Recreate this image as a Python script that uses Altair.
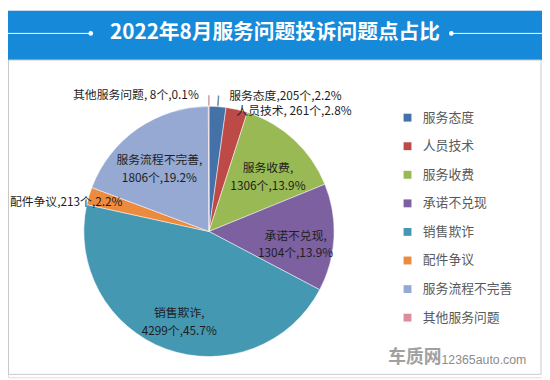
import altair as alt
import pandas as pd

# ---- data ----
categories = ["服务态度", "人员技术", "服务收费", "承诺不兑现", "销售欺诈", "配件争议", "服务流程不完善", "其他服务问题"]
counts = [205, 261, 1306, 1304, 4299, 213, 1806, 8]
percents = ["2.2", "2.8", "13.9", "13.9", "45.7", "2.2", "19.2", "0.1"]
label_seps = [",", ", ", ",\n", ",\n", ",\n", ",", ",\n", ", "]
colors = ["#4472A8", "#BD4A47", "#98B954", "#7D60A0", "#4598B1", "#EC8A3E", "#95A9D2", "#D9909A"]
title_text = "2022年8月服务问题投诉问题点占比"

labels = [f"{c}{s}{n}个,{p}%" for c, s, n, p in zip(categories, label_seps, counts, percents)]
df = pd.DataFrame({"idx": list(range(len(categories))), "cat": categories,
                   "count": counts, "label": labels})

W, H = 542, 372
CX, CY, R = 204, 224, 127
FONT = "Noto Sans CJK SC"

one = pd.DataFrame({"a": [0]})

# background pieces
bar = alt.Chart(one).mark_rect(color="#168AD8").encode(
    x=alt.value(0), x2=alt.value(W), y=alt.value(0), y2=alt.value(50))
border = alt.Chart(one).mark_rect(fill=None, stroke="#C8C8C8", strokeWidth=1).encode(
    x=alt.value(0.5), x2=alt.value(541), y=alt.value(50), y2=alt.value(369))
line_l = alt.Chart(one).mark_rule(color="white", strokeWidth=1).encode(
    x=alt.value(0), x2=alt.value(84), y=alt.value(23))
line_r = alt.Chart(one).mark_rule(color="white", strokeWidth=1).encode(
    x=alt.value(450), x2=alt.value(W), y=alt.value(23))
dot_l = alt.Chart(one).mark_point(filled=True, color="white", size=22, opacity=1).encode(
    x=alt.value(84), y=alt.value(23))
dot_r = alt.Chart(one).mark_point(filled=True, color="white", size=22, opacity=1).encode(
    x=alt.value(450), y=alt.value(23))
title = alt.Chart(pd.DataFrame({"t": [title_text]})).mark_text(
    font=FONT, fontSize=21, fontWeight="bold", color="white", align="center", baseline="middle"
).encode(text="t:N", x=alt.value(271), y=alt.value(23))

base = alt.Chart(df)

pie = base.mark_arc(outerRadius=R, stroke="white", strokeWidth=0.5).encode(
    theta=alt.Theta("count:Q", stack=True),
    order=alt.Order("idx:Q"),
    color=alt.Color("cat:N", sort=categories,
                    scale=alt.Scale(domain=categories, range=colors),
                    legend=alt.Legend(orient="none", legendX=399, legendY=102, title=None,
                                      symbolType="square", symbolSize=64, symbolStrokeWidth=0,
                                      labelFont=FONT, labelFontSize=13, labelColor="#595959",
                                      rowPadding=15, labelOffset=9, padding=0)),
    x=alt.value(CX), y=alt.value(CY))


def label_layer(cats, radius, align="center", dx=0, dy=0):
    cat_list = "[" + ",".join(f"'{c}'" for c in cats) + "]"
    return base.transform_calculate(
        lab=f"indexof({cat_list}, datum.cat) >= 0 ? datum.label : ''"
    ).mark_text(font=FONT, fontSize=12, color="#1E1E1E", lineBreak="\n", lineHeight=18,
                align=align, baseline="middle", dx=dx, dy=dy).encode(
        theta=alt.Theta("count:Q", stack=True),
        order=alt.Order("idx:Q"),
        radius=alt.value(radius),
        text="lab:N",
        x=alt.value(CX), y=alt.value(CY))


inner = label_layer(["服务收费", "承诺不兑现", "销售欺诈", "服务流程不完善"], 88)
lab_other = label_layer(["其他服务问题"], 138, "right", dx=-10)
lab_att = label_layer(["服务态度"], 138, "left", dx=11)
lab_tech = label_layer(["人员技术"], 125, "left")
lab_parts = label_layer(["配件争议"], 148, "center", dx=-3, dy=12)


def leader(cat, color):
    return base.transform_joinaggregate(total="sum(count)").transform_window(
        cum="sum(count)", sort=[alt.SortField("idx")]
    ).transform_calculate(
        t="2*PI*(datum.cum - datum.count/2)/datum.total",
        t2="2*PI*(datum.cum - datum.count/2)/datum.total + 0.004"
    ).transform_filter(alt.datum.cat == cat).mark_arc(
        color=color, stroke=color, strokeWidth=0.8
    ).encode(
        theta=alt.Theta("t:Q", scale=None), theta2="t2:Q",
        radius=alt.value(R + 1), radius2=alt.value(R + 11),
        x=alt.value(CX), y=alt.value(CY))


lead1 = leader("其他服务问题", "#C9A0A6")
lead2 = leader("服务态度", "#5E82AE")

wm1 = alt.Chart(pd.DataFrame({"t": ["车质网"]})).mark_text(
    font=FONT, fontSize=18, fontWeight="bold", color="#A0A0A0", align="left", baseline="middle"
).encode(text="t:N", x=alt.value(386), y=alt.value(353))
wm2 = alt.Chart(pd.DataFrame({"t": ["12365auto.com"]})).mark_text(
    font="Liberation Sans", fontSize=12.5, color="#8C8C8C", align="left", baseline="middle"
).encode(text="t:N", x=alt.value(440), y=alt.value(355))

chart = alt.layer(
    bar, border, line_l, line_r, dot_l, dot_r, title,
    pie, lead1, lead2, inner, lab_other, lab_att, lab_tech, lab_parts, wm1, wm2
).resolve_scale(theta="independent").properties(
    width=W, height=H, autosize=alt.AutoSizeParams(type="none"), padding=0
).configure_view(stroke=None).configure(background="white")

chart.save("out.html", embed_options={"renderer": "svg", "actions": False})
